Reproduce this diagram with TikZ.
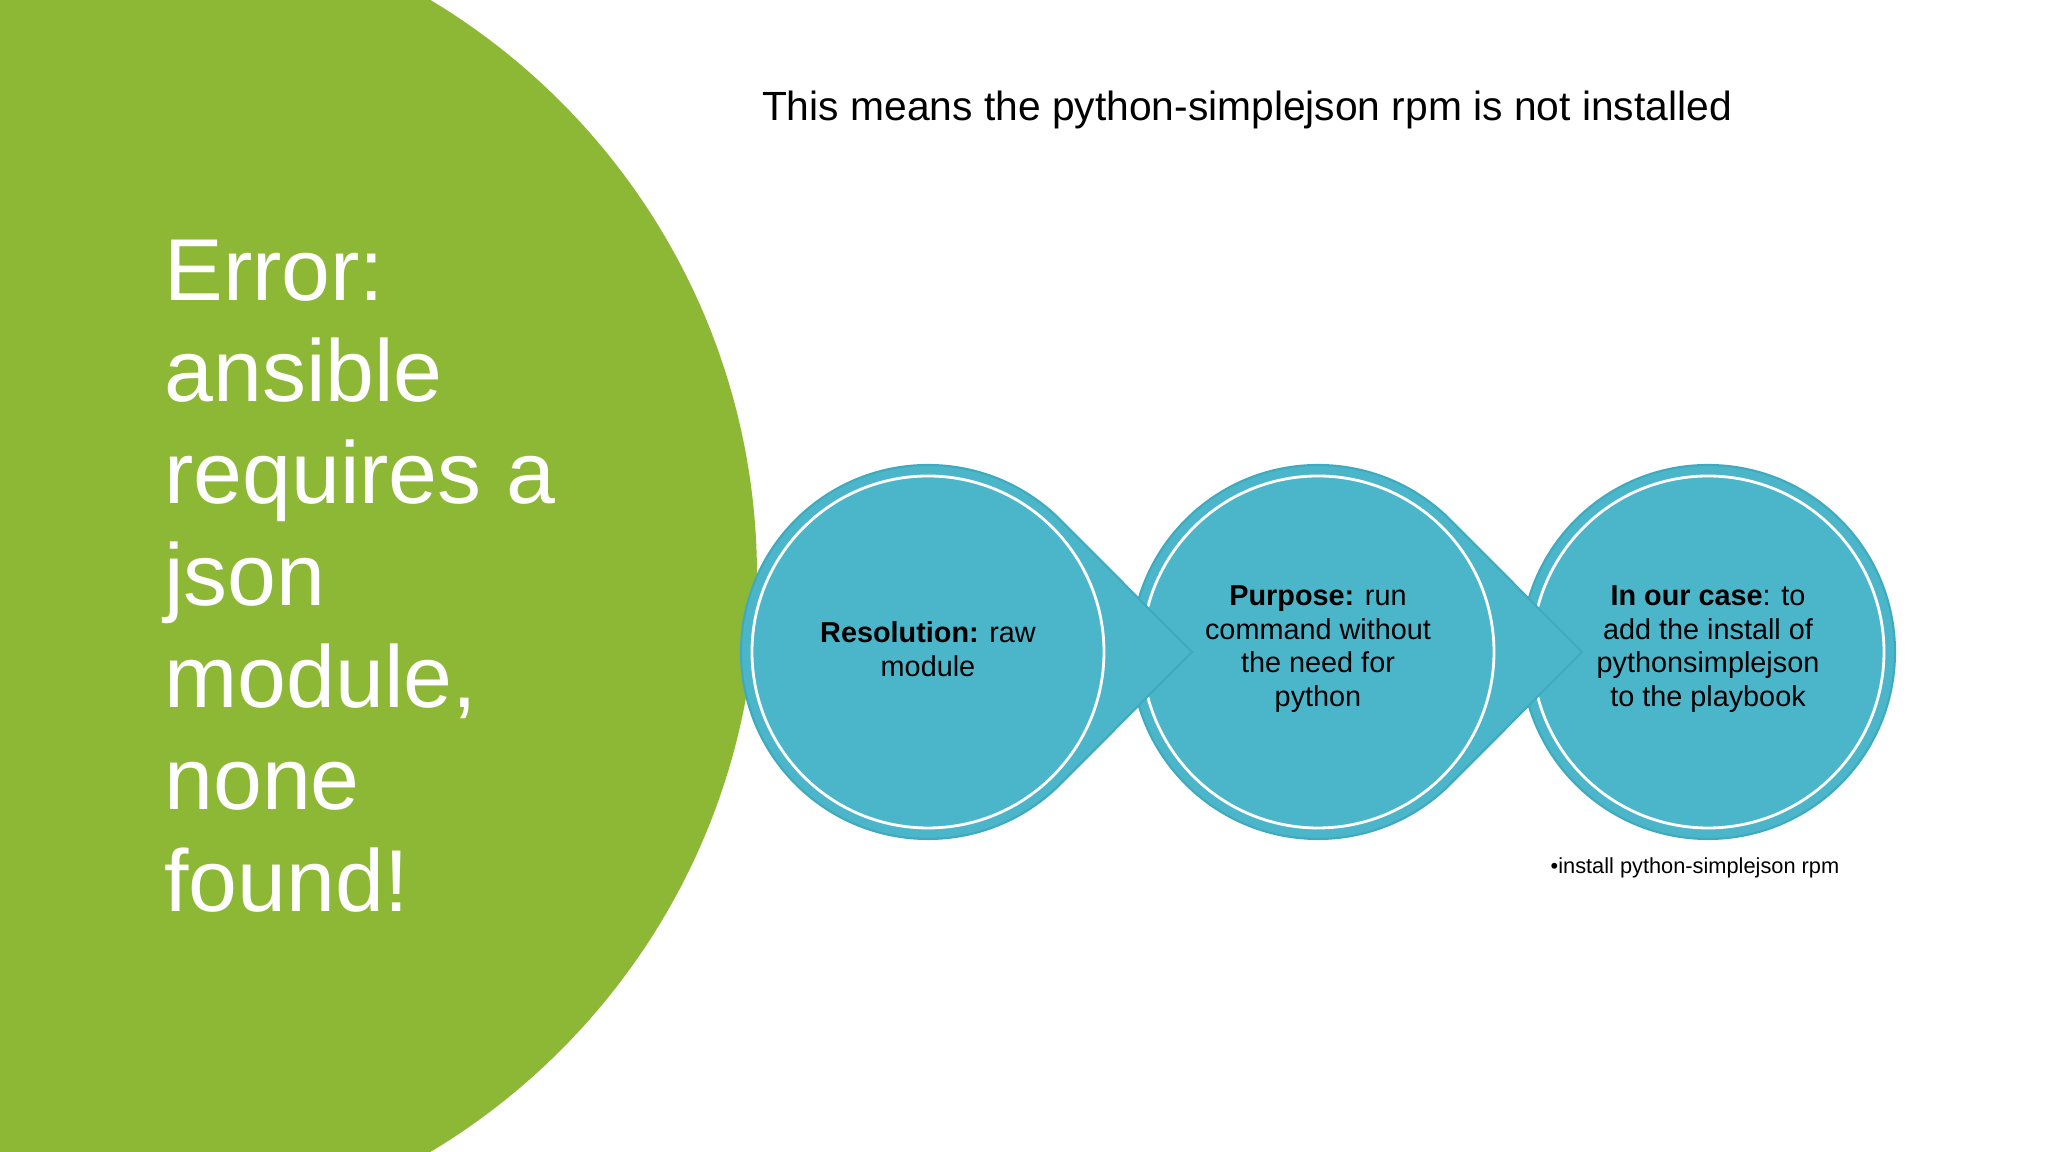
\documentclass[tikz,border=0pt]{standalone}
\usepackage{fontspec}
\setmainfont{Liberation Sans}
\definecolor{grn}{HTML}{8DB836}
\definecolor{teal}{HTML}{4BB5C9}
\definecolor{tealdk}{HTML}{3FA9BE}
\tikzset{ctext/.style={align=center,font=\fontsize{8.2}{9.6}\selectfont,text=black}}
\begin{document}
\begin{tikzpicture}
\useasboundingbox (0,0) rectangle (20.48,11.52);
\fill[white] (0,0) rectangle (20.48,11.52);
\begin{scope}
\clip (0,0) rectangle (20.48,11.52);
\fill[grn] (0.86,5.76) circle (6.71);
\end{scope}
\node[anchor=west,font=\fontsize{25}{29}\selectfont,text=white,align=left] (err) at (1.52,5.76)
 {Error:\\ansible\\requires a\\json\\module,\\none\\found!};
\node[font=\fontsize{11.6}{14}\selectfont] (title) at (12.47,10.42) {This means the python-simplejson rpm is not installed};
% circles, drawn last to first
\foreach \cx/\arr in {17.08/0,13.18/1,9.28/1}{
 \ifnum\arr=1
  \fill[teal,draw=tealdk,line width=0.6pt] (\cx,5)++(45:1.87) arc (45:315:1.87) -- (\cx+2.64,5) -- cycle;
 \else
  \fill[teal,draw=tealdk,line width=0.6pt] (\cx,5) circle (1.87);
 \fi
 \draw[white,line width=0.8pt] (\cx,5) circle (1.76);
}
\node[ctext] (c1) at (9.28,5.03) {\textbf{Resolution:} raw\\module};
\node[ctext] (c2) at (13.18,5.03) {\textbf{Purpose:} run\\command without\\the need for\\python};
\node[ctext] (c3) at (17.08,5.03) {\textbf{In our case}: to\\add the install of\\pythonsimplejson\\to the playbook};
\node[font=\fontsize{6.2}{7}\selectfont] (b) at (16.95,2.84) {•install python-simplejson rpm};
\end{tikzpicture}
\end{document}
